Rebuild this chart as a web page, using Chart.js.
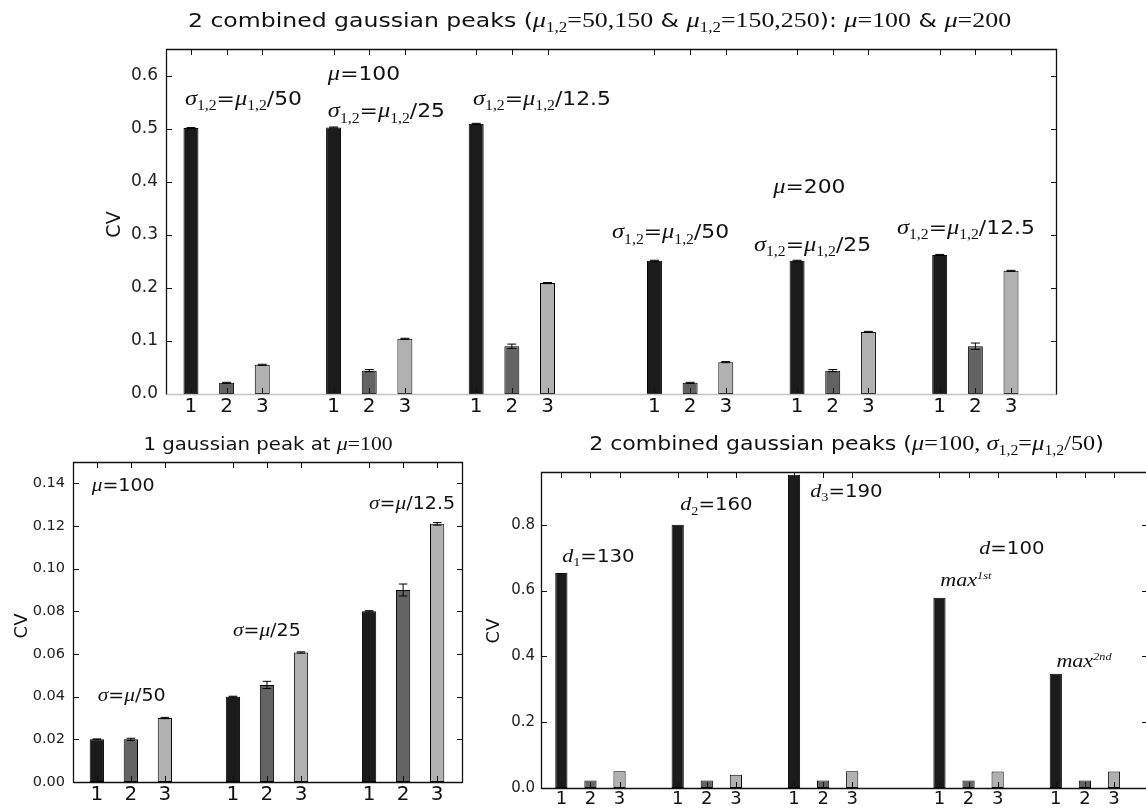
<!DOCTYPE html>
<html><head><meta charset="utf-8">
<script src="https://cdn.jsdelivr.net/npm/chart.js@4"></script>
<style>
html,body{margin:0;padding:0;background:#fff;overflow:hidden;width:1146px;height:810px;position:relative}
canvas{position:absolute}
</style></head>
<body>
<canvas id="c1" width="1146" height="420" style="left:0;top:0"></canvas>
<canvas id="c2" width="490" height="390" style="left:0;top:420px"></canvas>
<canvas id="c3" width="670" height="390" style="left:480px;top:420px"></canvas>
<script>
// ---------------- DATA ----------------
const barLabels = ['1', '2', '3'];

// Top: 2 combined gaussian peaks, mu=100 (3 groups) & mu=200 (3 groups)
const topGroups = ['mu100_s50', 'mu100_s25', 'mu100_s12.5', 'mu200_s50', 'mu200_s25', 'mu200_s12.5'];
const topS1 = [0.501, 0.502, 0.509, 0.251, 0.251, 0.262];
const topS2 = [0.021, 0.044, 0.090, 0.021, 0.044, 0.090];
const topS3 = [0.055, 0.104, 0.209, 0.060, 0.117, 0.232];
const topE1 = [0.001, 0.001, 0.001, 0.001, 0.001, 0.001];
const topE2 = [0.001, 0.002, 0.004, 0.001, 0.002, 0.006];
const topE3 = [0.001, 0.001, 0.001, 0.001, 0.001, 0.001];

// Bottom-left: 1 gaussian peak at mu=100
const blGroups = ['s50', 's25', 's12.5'];
const blS1 = [0.020, 0.040, 0.080];
const blS2 = [0.020, 0.0455, 0.090];
const blS3 = [0.030, 0.0607, 0.121];
const blE1 = [0.0002, 0.0002, 0.0003];
const blE2 = [0.0005, 0.0017, 0.0028];
const blE3 = [0.0003, 0.0003, 0.0006];

// Bottom-right: 2 combined gaussian peaks (mu=100, sigma=mu/50)
const brGroups = ['d1=130', 'd2=160', 'd3=190', 'max1st', 'max2nd'];
const brS1 = [0.653, 0.800, 0.952, 0.578, 0.347];
const brS2 = [0.023, 0.023, 0.023, 0.023, 0.023];
const brS3 = [0.051, 0.040, 0.051, 0.050, 0.050];
const brE1 = [0, 0, 0, 0, 0];
const brE2 = [0, 0, 0, 0, 0];
const brE3 = [0, 0, 0, 0, 0];

// ---------------- STYLE ----------------
const COLORS = ['#1b1b1b', '#636363', '#b1b1b1'];
const SANS = '"DejaVu Sans"';
const MATH = '"Liberation Serif"';

// bar slot layout: groups of 3 bars, 1 empty slot between groups, extra slot where a block changes
function slots(nGroups, extraAfter) {
  const starts = []; let s = 0;
  for (let g = 0; g < nGroups; g++) {
    starts.push(s);
    s += barLabels.length + 1 + (extraAfter.includes(g) ? 1 : 0);
  }
  return starts;
}

// rich text: runs of [text, kind]
function drawRich(ctx, runs, x, y, size, align, sx) {
  sx = sx || 1;
  const parts = runs.map(([t, k]) => {
    let font, dy = 0;
    if (k === 'r') font = `${size}px ${SANS}`;
    else if (k === 'i') font = `italic ${size * 1.12}px ${MATH}`;
    else if (k === 'u') font = `${size * 1.1}px ${MATH}`;
    else if (k === 's') { font = `${size * 0.72}px ${MATH}`; dy = size * 0.28; }
    else if (k === 'p') { font = `italic ${size * 0.62}px ${MATH}`; dy = -size * 0.42; }
    ctx.font = font;
    return { t, font, dy, w: ctx.measureText(t).width };
  });
  const total = parts.reduce((a, p) => a + p.w, 0) * sx;
  const x0 = align === 'center' ? x - total / 2 : x;
  const base = y + size * 0.36;
  ctx.save();
  ctx.translate(x0, base);
  ctx.scale(sx, 1);
  ctx.fillStyle = '#111';
  ctx.textBaseline = 'alphabetic';
  ctx.textAlign = 'left';
  let cx = 0;
  for (const p of parts) {
    ctx.font = p.font;
    ctx.fillText(p.t, cx, p.dy);
    cx += p.w;
  }
  ctx.restore();
}

const decoPlugin = {
  id: 'deco',
  afterDatasetsDraw(chart) {
    const o = chart.options.plugins.deco;
    const ctx = chart.ctx, a = chart.chartArea;
    const xs = chart.scales.x, ys = chart.scales.y;
    // error bars
    chart.data.datasets.forEach((ds, di) => {
      const meta = chart.getDatasetMeta(di);
      ds.err.forEach((e, i) => {
        if (!e) return;
        const p = ds.data[i];
        const px = xs.getPixelForValue(p.x);
        const y1 = ys.getPixelForValue(p.y - e), y2 = ys.getPixelForValue(p.y + e);
        const w = meta.data[i].width * 0.3;
        ctx.save(); ctx.strokeStyle = '#000'; ctx.lineWidth = 1;
        ctx.beginPath();
        ctx.moveTo(px, y1); ctx.lineTo(px, y2);
        ctx.moveTo(px - w, y1); ctx.lineTo(px + w, y1);
        ctx.moveTo(px - w, y2); ctx.lineTo(px + w, y2);
        ctx.stroke(); ctx.restore();
      });
    });
    // inward ticks
    const tl = o.tickLen;
    ctx.save(); ctx.strokeStyle = '#111'; ctx.lineWidth = 1;
    ctx.beginPath();
    xs.ticks.forEach(t => {
      const px = Math.round(xs.getPixelForValue(t.value)) + 0.5;
      ctx.moveTo(px, a.bottom); ctx.lineTo(px, a.bottom - tl);
      ctx.moveTo(px, a.top); ctx.lineTo(px, a.top + tl);
    });
    ys.ticks.forEach(t => {
      const py = Math.round(ys.getPixelForValue(t.value)) + 0.5;
      ctx.moveTo(a.left, py); ctx.lineTo(a.left + tl, py);
      ctx.moveTo(a.right, py); ctx.lineTo(a.right - tl, py);
    });
    ctx.stroke();
    // frame
    const L = Math.round(a.left) + 0.5, R = Math.round(a.right) - 0.5, T = Math.round(a.top) + 0.5, B = Math.round(a.bottom) + 0.5;
    ctx.lineWidth = 1.3;
    ctx.beginPath(); ctx.moveTo(L, B); ctx.lineTo(L, T); ctx.lineTo(R, T); ctx.lineTo(R, B); ctx.stroke();
    ctx.strokeStyle = o.bottomColor;
    ctx.beginPath(); ctx.moveTo(L, B); ctx.lineTo(R, B); ctx.stroke();
    ctx.restore();
    // annotations
    o.notes.forEach(n => drawRich(ctx, n.runs, xs.getPixelForValue(n.x), ys.getPixelForValue(n.y), n.size, 'left', o.textStretch));
    // title
    drawRich(ctx, o.title.runs, (a.left + a.right) / 2 + (o.title.dx || 0), o.title.y, o.title.size, 'center', o.title.sx);
    // y axis label
    ctx.save();
    ctx.translate(o.cvX, (a.top + a.bottom) / 2 + (o.cvDy || 0));
    ctx.rotate(-Math.PI / 2);
    ctx.font = `${o.cvSize}px ${SANS}`; ctx.fillStyle = '#111';
    ctx.textAlign = 'center'; ctx.textBaseline = 'middle';
    ctx.fillText('CV', 0, 0);
    ctx.restore();
  }
};

function makeChart(id, cfg) {
  const starts = slots(cfg.series[0].length, cfg.extraAfter);
  const tickVals = [];
  starts.forEach(s => barLabels.forEach((_, j) => tickVals.push(s + j)));
  const datasets = cfg.series.map((vals, j) => ({
    data: vals.map((v, g) => ({ x: starts[g] + j, y: v })),
    err: cfg.errs[j],
    backgroundColor: COLORS[j],
    borderColor: '#000',
    borderWidth: 1,
    borderSkipped: false,
    grouped: false,
    barPercentage: 0.42,
    categoryPercentage: 1
  }));
  const lastTick = tickVals[tickVals.length - 1];
  return new Chart(document.getElementById(id), {
    type: 'bar',
    data: { datasets },
    plugins: [decoPlugin],
    options: {
      responsive: false,
      animation: false,
      events: [],
      layout: { padding: { left: 0, top: cfg.area.top, right: cfg.area.right, bottom: 0 } },
      scales: {
        x: {
          type: 'linear', offset: false,
          min: -0.7, max: lastTick + cfg.xPadRight,
          grid: { display: false, drawTicks: false },
          border: { display: false },
          afterBuildTicks: s => { s.ticks = tickVals.map(v => ({ value: v })); },
          afterFit: s => { s.height = cfg.area.xh; },
          ticks: {
            autoSkip: false, maxRotation: 0, padding: cfg.xTickPad,
            font: { family: 'DejaVu Sans', size: cfg.xTickSize }, color: '#111',
            callback: (v, i) => barLabels[i % barLabels.length]
          }
        },
        y: {
          min: 0, max: cfg.ymax,
          grid: { display: false, drawTicks: false },
          border: { display: false },
          afterFit: s => { s.width = cfg.area.left; },
          ticks: {
            stepSize: cfg.step, includeBounds: false, padding: cfg.yTickPad,
            font: { family: 'DejaVu Sans', size: cfg.yTickSize }, color: '#222',
            callback: v => v.toFixed(cfg.dec)
          }
        }
      },
      plugins: {
        legend: { display: false },
        tooltip: { enabled: false },
        title: { display: false },
        deco: cfg.deco
      }
    }
  });
}

// ---------------- CHARTS ----------------
const S = 19;
makeChart('c1', {
  series: [topS1, topS2, topS3], errs: [topE1, topE2, topE3], extraAfter: [2],
  area: { left: 166, top: 49, right: 89, xh: 26 },
  xPadRight: 1.29, ymax: 0.65, step: 0.1, dec: 1,
  xTickSize: 20, yTickSize: 17, xTickPad: 1, yTickPad: 8,
  deco: {
    tickLen: 6, bottomColor: '#c4c4c4', cvX: 115, cvSize: 19, cvDy: 3, textStretch: 1.15,
    title: { y: 20, size: 19, dx: -12, sx: 1.24, runs: [['2 combined gaussian peaks (', 'r'], ['μ', 'i'], ['1,2', 's'], ['=50,150', 'u'], [' & ', 'r'], ['μ', 'i'], ['1,2', 's'], ['=150,250', 'u'], ['): ', 'r'], ['μ', 'i'], ['=100', 'u'], [' & ', 'r'], ['μ', 'i'], ['=200', 'u']] },
    notes: [
      { x: -0.17, y: 0.558, size: S, runs: [['σ', 'i'], ['1,2', 's'], ['=', 'r'], ['μ', 'i'], ['1,2', 's'], ['/50', 'r']] },
      { x: 3.84, y: 0.605, size: S, runs: [['μ', 'i'], ['=100', 'r']] },
      { x: 3.84, y: 0.534, size: S, runs: [['σ', 'i'], ['1,2', 's'], ['=', 'r'], ['μ', 'i'], ['1,2', 's'], ['/25', 'r']] },
      { x: 7.91, y: 0.558, size: S, runs: [['σ', 'i'], ['1,2', 's'], ['=', 'r'], ['μ', 'i'], ['1,2', 's'], ['/12.5', 'r']] },
      { x: 16.33, y: 0.392, size: S, runs: [['μ', 'i'], ['=200', 'r']] },
      { x: 11.81, y: 0.306, size: S, runs: [['σ', 'i'], ['1,2', 's'], ['=', 'r'], ['μ', 'i'], ['1,2', 's'], ['/50', 'r']] },
      { x: 15.79, y: 0.283, size: S, runs: [['σ', 'i'], ['1,2', 's'], ['=', 'r'], ['μ', 'i'], ['1,2', 's'], ['/25', 'r']] },
      { x: 19.80, y: 0.315, size: S, runs: [['σ', 'i'], ['1,2', 's'], ['=', 'r'], ['μ', 'i'], ['1,2', 's'], ['/12.5', 'r']] }
    ]
  }
});

makeChart('c2', {
  series: [blS1, blS2, blS3], errs: [blE1, blE2, blE3], extraAfter: [],
  area: { left: 73, top: 42, right: 27, xh: 28 },
  xPadRight: 0.76, ymax: 0.15, step: 0.02, dec: 2,
  xTickSize: 20, yTickSize: 14.5, xTickPad: 1, yTickPad: 8,
  deco: {
    tickLen: 6, bottomColor: '#111', cvX: 22, cvSize: 18, cvDy: 4, textStretch: 1.12,
    title: { y: 24, size: 17, dx: 0, sx: 1.16, runs: [['1 gaussian peak at ', 'r'], ['μ', 'i'], ['=100', 'u']] },
    notes: [
      { x: -0.15, y: 0.1392, size: 17, runs: [['μ', 'i'], ['=100', 'r']] },
      { x: 0.03, y: 0.0408, size: 17, runs: [['σ', 'i'], ['=', 'r'], ['μ', 'i'], ['/50', 'r']] },
      { x: 4.0, y: 0.0713, size: 17, runs: [['σ', 'i'], ['=', 'r'], ['μ', 'i'], ['/25', 'r']] },
      { x: 8.0, y: 0.1308, size: 17, runs: [['σ', 'i'], ['=', 'r'], ['μ', 'i'], ['/12.5', 'r']] }
    ]
  }
});

makeChart('c3', {
  series: [brS1, brS2, brS3], errs: [brE1, brE2, brE3], extraAfter: [2],
  area: { left: 61, top: 52, right: 2, xh: 22 },
  xPadRight: 1.17, ymax: 0.96, step: 0.2, dec: 1,
  xTickSize: 18, yTickSize: 15, xTickPad: 1, yTickPad: 6,
  deco: {
    tickLen: 6, bottomColor: '#111', cvX: 14, cvSize: 18, cvDy: 1, textStretch: 1.16,
    title: { y: 23, size: 19, dx: 2, sx: 1.16, runs: [['2 combined gaussian peaks (', 'r'], ['μ', 'i'], ['=100, ', 'u'], ['σ', 'i'], ['1,2', 's'], ['=', 'u'], ['μ', 'i'], ['1,2', 's'], ['/50', 'u'], [')', 'r']] },
    notes: [
      { x: 0.03, y: 0.706, size: 17, runs: [['d', 'i'], ['1', 's'], ['=130', 'r']] },
      { x: 4.09, y: 0.863, size: 17, runs: [['d', 'i'], ['2', 's'], ['=160', 'r']] },
      { x: 8.56, y: 0.904, size: 17, runs: [['d', 'i'], ['3', 's'], ['=190', 'r']] },
      { x: 14.37, y: 0.730, size: 17, runs: [['d', 'i'], ['=100', 'r']] },
      { x: 13.03, y: 0.633, size: 17, runs: [['max', 'i'], ['1st', 'p']] },
      { x: 17.02, y: 0.386, size: 17, runs: [['max', 'i'], ['2nd', 'p']] }
    ]
  }
});
</script>
</body></html>
